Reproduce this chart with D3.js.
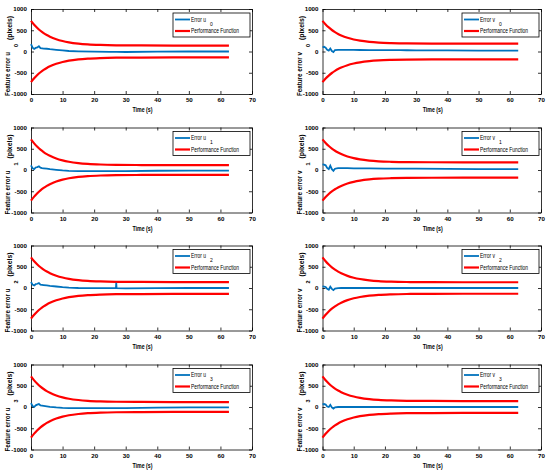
<!DOCTYPE html>
<html>
  <head>
    <meta charset="utf-8" />
    <title>Feature errors</title>
    <script src="https://d3js.org/d3.v7.min.js"></script>
    <style>
        body { margin: 0; background: #fff; }
        text { font-family: "Liberation Sans", Arial, sans-serif; fill: #000; }
    </style>
  </head>
  <body>
    <svg id="chart"></svg>

    <script>
        // time samples (s) for the performance function
        var boundTime = [0, 1, 2, 3, 4, 5, 6, 8, 10, 12, 15, 18, 22, 27, 35, 45, 62.7];
        // upper performance bound per panel (lower bound is the mirror image)
        var boundU0 = [720, 629, 553, 488, 434, 388, 349, 289, 246, 215, 185, 167, 154, 146, 142, 140, 140];
        var boundV0 = [720, 636, 566, 506, 456, 413, 378, 322, 283, 255, 227, 210, 198, 190, 187, 185, 185];
        var boundU1 = [720, 626, 546, 478, 422, 373, 334, 270, 226, 194, 162, 143, 129, 121, 117, 115, 115];
        var boundV1 = [720, 636, 564, 504, 454, 411, 375, 319, 279, 250, 222, 205, 193, 185, 182, 180, 180];
        var boundU2 = [720, 629, 553, 488, 434, 388, 349, 289, 246, 215, 185, 167, 154, 146, 142, 140, 140];
        var boundV2 = [720, 629, 552, 486, 432, 385, 346, 285, 242, 211, 181, 162, 149, 141, 137, 135, 135];
        var boundU3 = [720, 626, 546, 479, 423, 374, 335, 272, 227, 195, 164, 145, 131, 123, 119, 117, 117];
        var boundV3 = [720, 629, 553, 488, 434, 388, 349, 289, 246, 215, 185, 167, 154, 146, 142, 140, 140];

        // time samples (s) for the feature errors
        var errTime = [0, 0.5, 1, 1.5, 2, 2.5, 3, 3.5, 4, 5, 6, 8, 10, 12, 15, 20, 25, 26.9, 27, 27.1, 30, 40, 50, 62.7];
        var errU0 = [175, 90, 60, 85, 95, 125, 80, 75, 70, 65, 55, 40, 25, 12, 3, -5, -8, -10, -10, -10, -12, -5, 0, 0];
        var errV0 = [100, 110, 90, 40, 20, 70, 10, -15, 35, 40, 40, 38, 36, 35, 34, 32, 30, 30, 30, 30, 28, 25, 22, 20];
        var errU1 = [110, 40, 20, 60, 70, 85, 55, 45, 40, 30, 20, 5, -10, -20, -25, -25, -25, -25, -25, -25, -28, -18, -15, -15];
        var errV1 = [130, 125, 110, 50, 20, 100, 20, -20, 30, 45, 45, 42, 40, 38, 36, 34, 32, 32, 32, 32, 30, 26, 22, 20];
        var errU2 = [140, 80, 60, 90, 100, 115, 80, 75, 70, 60, 50, 35, 20, 10, 0, -5, -5, -5, 120, -5, -8, -5, 0, 0];
        var errV2 = [40, 35, 25, -20, -40, 30, -20, -50, -15, -5, 0, 0, 0, 0, 0, 0, 0, 0, 0, 0, 0, 0, 0, 0];
        var errU3 = [90, 20, 0, 40, 55, 70, 35, 30, 25, 15, 5, -10, -20, -25, -25, -25, -25, -25, -25, -25, -25, -15, -10, -10];
        var errV3 = [60, 70, 60, 10, 0, 50, -10, -40, -10, 0, 0, 0, 0, 0, 0, 0, 0, 0, 0, 0, 0, 0, 0, 0];

        var xTicks = [0, 10, 20, 30, 40, 50, 60, 70];
        var yTicks = [-1000, -500, 0, 500, 1000];

        var panels = [
            {v: "u", k: "0", bound: boundU0, err: errU0},
            {v: "v", k: "0", bound: boundV0, err: errV0},
            {v: "u", k: "1", bound: boundU1, err: errU1},
            {v: "v", k: "1", bound: boundV1, err: errV1},
            {v: "u", k: "2", bound: boundU2, err: errU2},
            {v: "v", k: "2", bound: boundV2, err: errV2},
            {v: "u", k: "3", bound: boundU3, err: errU3},
            {v: "v", k: "3", bound: boundV3, err: errV3}
        ];

        var width = 550, height = 474;
        var colLeft = [31, 322.5], colWidth = [221, 218.5];
        var rowTop = [9, 127.5, 245.5, 364.5], plotH = 85;

        var plain = function(d) { return String(d); }; // keep an ascii minus sign

        var svg = d3.select("#chart").attr("width", width).attr("height", height);

        panels.forEach(function(p, i) {
            var col = i % 2, row = Math.floor(i / 2);
            var w = colWidth[col];
            var g = svg.append("g")
                .attr("transform", "translate(" + colLeft[col] + "," + rowTop[row] + ")");

            var x = d3.scaleLinear().domain([0, 70]).range([0, w]);
            var y = d3.scaleLinear().domain([-1000, 1000]).range([plotH, 0]);

            // axes, ticks pointing inwards on all four sides
            g.append("g").attr("transform", "translate(0," + plotH + ")")
                .call(d3.axisBottom(x).tickValues(xTicks).tickSize(-3).tickSizeOuter(0).tickPadding(4).tickFormat(plain));
            g.append("g")
                .call(d3.axisLeft(y).tickValues(yTicks).tickSize(-3).tickSizeOuter(0).tickPadding(4).tickFormat(plain));
            g.append("g")
                .call(d3.axisTop(x).tickValues(xTicks).tickSize(-3).tickSizeOuter(0).tickFormat(""));
            g.append("g").attr("transform", "translate(" + w + ",0)")
                .call(d3.axisRight(y).tickValues(yTicks).tickSize(-3).tickSizeOuter(0).tickFormat(""));
            g.selectAll(".tick text").attr("font-size", 6.2).attr("font-weight", "bold")
                .attr("font-family", "Liberation Sans");
            g.selectAll(".domain, .tick line").attr("stroke", "#000").attr("stroke-width", 0.8);

            var line = d3.line().curve(d3.curveMonotoneX);

            // performance function (upper and lower)
            var upper = p.bound.map(function(v, j) { return [x(boundTime[j]), y(v)]; });
            var lower = p.bound.map(function(v, j) { return [x(boundTime[j]), y(-v)]; });
            g.append("path").attr("d", line(upper))
                .attr("fill", "none").attr("stroke", "#ff0000").attr("stroke-width", 2.2);
            g.append("path").attr("d", line(lower))
                .attr("fill", "none").attr("stroke", "#ff0000").attr("stroke-width", 2.2);

            // feature error
            var err = p.err.map(function(v, j) { return [x(errTime[j]), y(v)]; });
            g.append("path").attr("d", d3.line()(err))
                .attr("fill", "none").attr("stroke", "#0072bd").attr("stroke-width", 1.8);

            // x label
            g.append("text").attr("x", w / 2 + 1).attr("y", plotH + 18)
                .attr("text-anchor", "middle").attr("font-size", 6.5).attr("font-weight", "bold")
                .attr("textLength", 20).attr("lengthAdjust", "spacingAndGlyphs")
                .text("Time (s)");

            // y label, rotated, with the detached subscript
            var yl = g.append("g").attr("transform", "rotate(-90)");
            yl.append("text").attr("x", -plotH - 2).attr("y", -21)
                .attr("font-size", 7.5).attr("font-weight", "bold")
                .attr("textLength", 44).attr("lengthAdjust", "spacingAndGlyphs")
                .text("Feature error " + p.v);
            yl.append("text").attr("x", -plotH + 47).attr("y", -13)
                .attr("font-size", 5.5).attr("font-weight", "bold")
                .text(p.k);
            yl.append("text").attr("x", -plotH + 54).attr("y", -19)
                .attr("font-size", 7.5).attr("font-weight", "bold")
                .attr("textLength", 24).attr("lengthAdjust", "spacingAndGlyphs")
                .text("(pixels)");

            // legend
            var lg = g.append("g").attr("transform", "translate(" + (w - 79) + ",4)");
            lg.append("rect").attr("width", 77).attr("height", 24)
                .attr("fill", "#fff").attr("stroke", "#000").attr("stroke-width", 0.8);
            lg.append("line").attr("x1", 2).attr("x2", 17).attr("y1", 6.5).attr("y2", 6.5)
                .attr("stroke", "#0072bd").attr("stroke-width", 1.8);
            lg.append("line").attr("x1", 2).attr("x2", 17).attr("y1", 18).attr("y2", 18)
                .attr("stroke", "#ff0000").attr("stroke-width", 2.2);
            lg.append("text").attr("x", 18).attr("y", 8.8).attr("font-size", 6.5)
                .attr("textLength", 15).attr("lengthAdjust", "spacingAndGlyphs")
                .text("Error " + p.v);
            lg.append("text").attr("x", 37).attr("y", 12.5).attr("font-size", 5)
                .text(p.k);
            lg.append("text").attr("x", 18).attr("y", 20.3).attr("font-size", 6.5)
                .attr("textLength", 48).attr("lengthAdjust", "spacingAndGlyphs")
                .text("Performance Function");
        });
    </script>
  </body>
</html>
